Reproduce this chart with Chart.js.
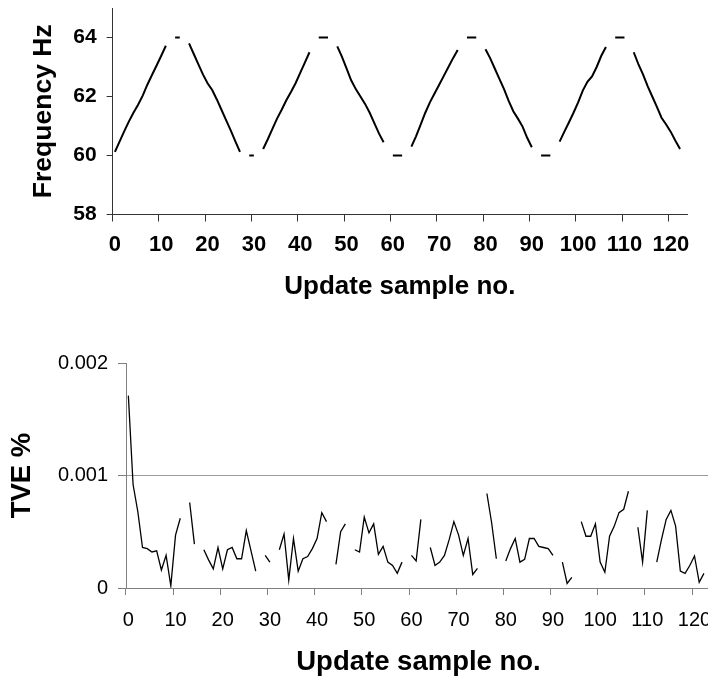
<!DOCTYPE html>
<html>
<head>
<meta charset="utf-8">
<title>Frequency ramp and TVE</title>
<script src="https://cdn.jsdelivr.net/npm/chart.js@4.4.1/dist/chart.umd.min.js"></script>
<style>
  html, body { margin: 0; padding: 0; background: #fff; overflow: hidden; width: 708px; height: 679px; }
  #freqChart { position: absolute; left: 0; top: -15px; }
  #tveChart { position: absolute; left: 0; top: 340px; }
</style>
</head>
<body>
<canvas id="freqChart" width="708" height="321"></canvas>
<canvas id="tveChart" width="730" height="342"></canvas>
<script>
// sample numbers on the x axis (categories)
const sampleNo = Array.from({ length: 124 }, (_, i) => i);

// frequency in Hz, null where no value was plotted
const freqHz = [
  60.12, 60.47, 60.82, 61.15, 61.45, 61.72, 62.03, 62.4, 62.73, 63.05,
  63.38, 63.72, null, 64, 64, null, 63.8, 63.45, 63.1, 62.75,
  62.45, 62.22, 61.9, 61.55, 61.2, 60.85, 60.48, 60.12, null, 60,
  60, null, 60.22, 60.55, 60.9, 61.25, 61.55, 61.87, 62.15, 62.45,
  62.8, 63.15, 63.5, null, 64, 64, 64, null, 63.7, 63.35,
  62.95, 62.55, 62.25, 62.0, 61.75, 61.45, 61.1, 60.75, 60.45, null,
  60, 60, 60, null, 60.3, 60.65, 61.05, 61.45, 61.8, 62.1,
  62.4, 62.7, 63.0, 63.3, 63.58, null, 64, 64, 64, null,
  63.6, 63.3, 62.95, 62.6, 62.25, 61.85, 61.5, 61.25, 60.98, 60.6,
  60.28, null, 60, 60, 60, null, 60.47, 60.8, 61.12, 61.45,
  61.8, 62.2, 62.5, 62.68, 63.0, 63.38, 63.68, null, 64, 64,
  64, null, 63.5, 63.1, 62.75, 62.35, 62.0, 61.65, 61.28, 61.05,
  60.8, 60.5, 60.22, null
];

// total vector error in %, null where no value was plotted
const tvePct = [
  0.00171, 0.00092, 0.00068, 0.00036, 0.00035, 0.00032, 0.00033, 0.00016, 0.00029, 0.00002,
  0.00047, 0.00062, null, 0.00076, 0.00039, null, 0.00034, 0.00025, 0.00017, 0.00036,
  0.00017, 0.00034, 0.00036, 0.00026, 0.00026, 0.00051, 0.00033, 0.00015, null, 0.00029,
  0.00023, null, 0.00034, 0.00048, 0.00007, 0.00044, 0.00015, 0.00026, 0.00028, 0.00035,
  0.00044, 0.00067, 0.00059, null, 0.00021, 0.00050, 0.00057, null, 0.00034, 0.00032,
  0.00063, 0.00049, 0.00057, 0.00030, 0.00037, 0.00023, 0.00020, 0.00013, 0.00023, null,
  0.00029, 0.00024, 0.00061, null, 0.00036, 0.00020, 0.00023, 0.00029, 0.00043, 0.00059,
  0.00047, 0.00029, 0.00044, 0.00012, 0.000175, null, 0.00084, 0.00058, 0.00026, null,
  0.00024, 0.00035, 0.00044, 0.00023, 0.000255, 0.00044, 0.00044, 0.00037, 0.00036, 0.00035,
  0.00029, null, 0.00023, 0.00004, 0.000095, null, 0.00059, 0.00046, 0.00046, 0.00057,
  0.00023, 0.00014, 0.00046, 0.00055, 0.00067, 0.00070, 0.00086, null, 0.00054, 0.00023,
  0.00069, null, 0.00023, 0.00043, 0.00061, 0.00069, 0.00055, 0.00015, 0.00013, 0.00020,
  0.000285, 0.00005, 0.00013, null
];

// tick values
const freqTicks = [58, 60, 62, 64];
const tveTicks = [0, 0.001, 0.002];
const tveLimit = 0.001;

Chart.defaults.font.family = '"Liberation Sans", Arial, sans-serif';
Chart.defaults.color = '#000';

function everyTenth(ctx, color) {
    return (ctx.index !== undefined && ctx.index % 10 === 0) ? color : 'rgba(0,0,0,0)';
}

const freqChart = new Chart(document.getElementById('freqChart'), {
    type: 'line',
    data: {
        labels: sampleNo,
        datasets: [{
            data: freqHz,
            borderColor: '#000',
            borderWidth: 2,
            pointRadius: 0,
            tension: 0,
            spanGaps: false
        }]
    },
    options: {
        responsive: false,
        animation: false,
        layout: { padding: { top: 23, left: 24, right: 21, bottom: 0 } },
        plugins: { legend: { display: false }, tooltip: { enabled: false } },
        scales: {
            x: {
                offset: true,
                afterFit: s => { s.height = 91.5; },
                grid: {
                    offset: true,
                    drawOnChartArea: false,
                    tickLength: 7,
                    tickColor: ctx => everyTenth(ctx, '#333')
                },
                border: { color: '#333' },
                ticks: {
                    autoSkip: false, maxRotation: 0, minRotation: 0, padding: 10,
                    font: { size: 22, weight: 'bold' },
                    callback: (v, i) => i % 10 === 0 ? String(sampleNo[i]) : ''
                },
                title: {
                    display: true, text: 'Update sample no.',
                    font: { size: 26, weight: 'bold' },
                    padding: { top: 14, bottom: 4 }
                }
            },
            y: {
                min: 58, max: 65,
                afterBuildTicks: s => { s.ticks = freqTicks.map(v => ({ value: v })); },
                afterFit: s => { s.width = 88.6; },
                grid: { drawOnChartArea: false, tickLength: 6, color: '#333' },
                border: { color: '#333' },
                ticks: { padding: 10, font: { size: 21, weight: 'bold' } },
                title: {
                    display: true, text: 'Frequency Hz',
                    font: { size: 26.5, weight: 'bold' },
                    padding: { top: 4, bottom: 14 }
                }
            }
        }
    }
});

const tveChart = new Chart(document.getElementById('tveChart'), {
    type: 'line',
    data: {
        labels: sampleNo,
        datasets: [{
            data: tvePct,
            borderColor: '#000',
            borderWidth: 1.3,
            pointRadius: 0,
            tension: 0,
            spanGaps: false
        }]
    },
    options: {
        responsive: false,
        animation: false,
        layout: { padding: { top: 23, left: 6, right: 19, bottom: 0 } },
        plugins: { legend: { display: false }, tooltip: { enabled: false } },
        scales: {
            x: {
                offset: true,
                afterFit: s => { s.height = 94; },
                grid: {
                    offset: true,
                    drawOnChartArea: false,
                    tickLength: 7,
                    tickColor: ctx => everyTenth(ctx, '#808080')
                },
                border: { color: '#808080' },
                ticks: {
                    autoSkip: false, maxRotation: 0, minRotation: 0, padding: 13,
                    font: { size: 20 },
                    callback: (v, i) => i % 10 === 0 ? String(sampleNo[i]) : ''
                },
                title: {
                    display: true, text: 'Update sample no.',
                    font: { size: 27.5, weight: 'bold' },
                    padding: { top: 14, bottom: 3 }
                }
            },
            y: {
                min: 0, max: 0.002,
                afterBuildTicks: s => { s.ticks = tveTicks.map(v => ({ value: v })); },
                afterFit: s => { s.width = 120; },
                grid: {
                    tickLength: 8,
                    tickColor: '#808080',
                    color: ctx => (ctx.tick && Math.abs(ctx.tick.value - tveLimit) < 1e-9) ? '#9a9a9a' : 'rgba(0,0,0,0)'
                },
                border: { color: '#808080' },
                ticks: {
                    padding: 10,
                    font: { size: 20 },
                    callback: v => v === 0 ? '0' : v.toFixed(3)
                },
                title: {
                    display: true, text: 'TVE %',
                    font: { size: 27.5, weight: 'bold' },
                    padding: { top: 0, bottom: 19 }
                }
            }
        }
    }
});
</script>
</body>
</html>
